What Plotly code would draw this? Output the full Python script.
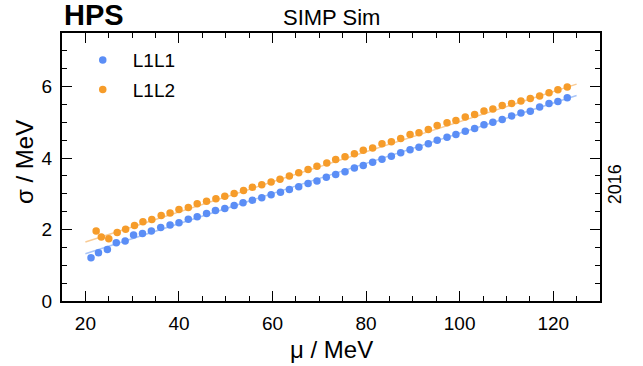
import plotly.graph_objects as go

# ---- data ----
l1l1_mu = [21.2, 22.8, 24.7, 26.6, 28.5, 30.3, 32.2, 34.1, 36.1, 38.1, 40.0, 42.0, 43.9,
           45.9, 47.8, 49.8, 51.8, 53.7, 55.7, 57.7, 59.7, 61.7, 63.6, 65.6, 67.6, 69.5,
           71.5, 73.5, 75.5, 77.5, 79.4, 81.4, 83.4, 85.4, 87.4, 89.4, 91.3, 93.3, 95.2,
           97.3, 99.2, 101.2, 103.2, 105.2, 107.1, 109.1, 111.1, 113.1, 115.1, 117.1, 119.1,
           121.0, 123.0]
l1l1_sigma = [1.21, 1.35, 1.44, 1.63, 1.68, 1.85, 1.89, 1.96, 2.06, 2.13, 2.19, 2.29, 2.36,
              2.45, 2.53, 2.59, 2.67, 2.75, 2.82, 2.89, 2.97, 3.04, 3.12, 3.20, 3.29, 3.36,
              3.46, 3.54, 3.62, 3.72, 3.79, 3.88, 3.97, 4.05, 4.15, 4.23, 4.30, 4.40, 4.50,
              4.58, 4.66, 4.75, 4.83, 4.93, 5.00, 5.08, 5.18, 5.26, 5.31, 5.43, 5.53,
              5.58, 5.69]

l1l2_mu = [22.3, 23.4, 25.0, 26.8, 28.6, 30.5, 32.3, 34.2, 36.2, 38.1, 40.0, 42.0, 43.9,
           45.9, 47.9, 49.8, 51.8, 53.8, 55.7, 57.7, 59.7, 61.6, 63.6, 65.6, 67.6, 69.5,
           71.6, 73.5, 75.5, 77.5, 79.4, 81.4, 83.4, 85.4, 87.4, 89.4, 91.3, 93.3, 95.2,
           97.3, 99.2, 101.2, 103.2, 105.2, 107.1, 109.1, 111.1, 113.1, 115.1, 117.1, 119.1,
           121.0, 123.0]
l1l2_sigma = [1.96, 1.79, 1.74, 1.92, 2.01, 2.11, 2.22, 2.28, 2.39, 2.46, 2.56, 2.62, 2.72,
              2.79, 2.86, 2.93, 3.01, 3.09, 3.18, 3.25, 3.33, 3.41, 3.50, 3.59, 3.68, 3.77,
              3.86, 3.96, 4.04, 4.12, 4.22, 4.28, 4.40, 4.46, 4.55, 4.66, 4.71, 4.80, 4.91,
              4.99, 5.05, 5.15, 5.22, 5.32, 5.37, 5.47, 5.53, 5.60, 5.67, 5.74, 5.83,
              5.91, 5.99]

# linear fits (endpoints of fitted lines)
fit_mu = [20.0, 125.0]
l1l1_fit = [1.32, 5.75]
l1l2_fit = [1.65, 6.07]

x_ticks = [20, 40, 60, 80, 100, 120]
y_ticks = [0, 2, 4, 6]

BLUE = "#5b8ef6"
ORANGE = "#f69c2a"
BLUE_LIGHT = "#a9c5f7"
ORANGE_LIGHT = "#f9cb94"
FONT = "Liberation Sans, Arial, Helvetica, sans-serif"

fig = go.Figure()
fig.add_trace(go.Scatter(x=fit_mu, y=l1l1_fit, mode="lines",
                         line=dict(color=BLUE_LIGHT, width=1.5), showlegend=False,
                         hoverinfo="skip"))
fig.add_trace(go.Scatter(x=fit_mu, y=l1l2_fit, mode="lines",
                         line=dict(color=ORANGE_LIGHT, width=1.5), showlegend=False,
                         hoverinfo="skip"))
fig.add_trace(go.Scatter(x=l1l1_mu, y=l1l1_sigma, mode="markers", name="L1L1",
                         legendgroup="a",
                         marker=dict(color=BLUE, size=7.5, line=dict(width=0))))
fig.add_trace(go.Scatter(x=l1l2_mu, y=l1l2_sigma, mode="markers", name="L1L2",
                         legendgroup="b",
                         marker=dict(color=ORANGE, size=7.5, line=dict(width=0))))

axis_common = dict(
    showgrid=False, zeroline=False, showline=True, linecolor="black", linewidth=2,
    mirror="allticks", ticks="inside", ticklen=10, tickwidth=1, tickcolor="black",
    tickfont=dict(family=FONT, size=19, color="black"),
)

fig.update_xaxes(range=[15, 130], tickvals=x_ticks,
                 minor=dict(dtick=5, tick0=0, ticks="inside", ticklen=5, tickcolor="black"),
                 ticklabelstandoff=4, **axis_common)
fig.update_yaxes(range=[0, 7.5], tickvals=y_ticks,
                 minor=dict(dtick=0.5, tick0=0, ticks="inside", ticklen=5, tickcolor="black"),
                 ticklabelstandoff=4, **axis_common)

fig.update_layout(
    width=643, height=366,
    margin=dict(l=62, r=43, t=33, b=65, autoexpand=False),
    paper_bgcolor="white", plot_bgcolor="white",
    font=dict(family=FONT, color="black"),
    showlegend=True,
    legend=dict(x=0.02, y=0.97, xanchor="left", yanchor="top",
                bgcolor="rgba(0,0,0,0)", borderwidth=0, itemwidth=50,
                tracegroupgap=2,
                font=dict(family=FONT, size=19, color="black")),
    annotations=[
        dict(text="<b>HPS</b>", x=0, y=1.067, xref="paper", yref="paper",
             xanchor="left", yanchor="middle", showarrow=False,
             font=dict(family=FONT, size=29, color="black")),
        dict(text="SIMP Sim", x=0.5, y=1.056, xref="paper", yref="paper",
             xanchor="center", yanchor="middle", showarrow=False,
             font=dict(family=FONT, size=22, color="black")),
        dict(text="2016", x=1.028, y=0.436, xref="paper", yref="paper",
             xanchor="center", yanchor="middle", showarrow=False, textangle=-90,
             font=dict(family=FONT, size=18, color="black")),
        dict(text="μ / MeV", x=0.5, y=-0.18, xref="paper", yref="paper",
             xanchor="center", yanchor="middle", showarrow=False,
             font=dict(family=FONT, size=24, color="black")),
        dict(text="σ / MeV", x=-0.07, y=0.52, xref="paper", yref="paper",
             xanchor="center", yanchor="middle", showarrow=False, textangle=-90,
             font=dict(family=FONT, size=24, color="black")),
    ],
)

fig.write_html("out.html")
